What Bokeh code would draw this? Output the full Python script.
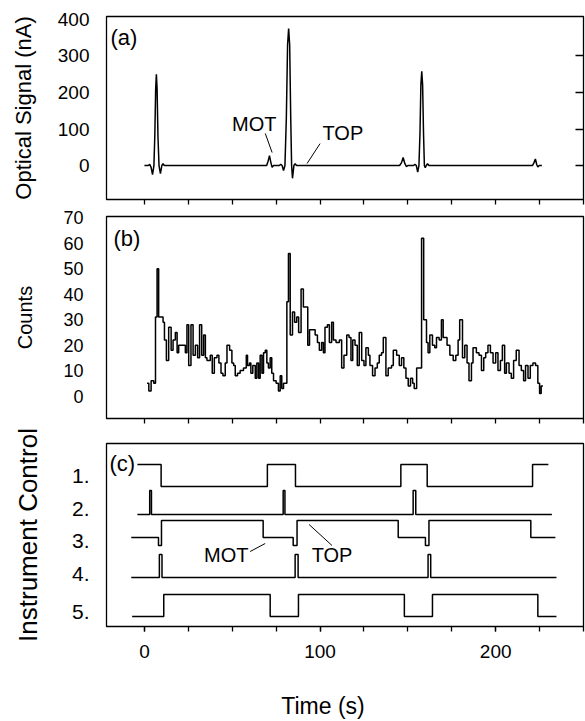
import math
from bokeh.plotting import figure
from bokeh.models import Range1d, FixedTicker, LinearAxis, Label
from bokeh.layouts import column
from bokeh.embed import file_html
from bokeh.resources import INLINE

FONT = "Liberation Sans"

# ---------------- data ----------------
x_minor_ticks = [0, 25, 50, 75, 100, 125, 150, 175, 200, 225, 250]
x_label_ticks = [0, 100, 200]

# (a) optical signal (nA) vs time (s)
sig_t = [0, 2.2, 3.0, 3.8, 4.6, 5.4, 5.9, 6.4, 6.8, 7.2, 7.7, 8.3, 9.1, 9.9, 10.6, 11.3,
         69.6, 70.4, 71.2, 72.0, 72.7, 73.5, 76.8, 77.6, 78.4, 79.2, 80.0, 80.8, 81.5, 82.1,
         82.7, 83.3, 83.8, 84.3, 85.1, 85.8, 86.6,
         145.3, 146.4, 147.3, 148.3, 149.2, 150.0, 153.2, 154.0, 154.8, 155.6, 156.3, 156.9,
         157.4, 157.9, 158.4, 158.9, 159.4, 159.9, 160.5, 161.2, 162.0,
         221.0, 221.8, 222.6, 223.4, 224.0, 224.8, 226.3]
sig_v = [0, 0, 3, -5, -25, 0, 80, 210, 250, 210, 80, 0, -22, 0, 5, 0,
         0, 12, 27, 8, -5, 0, 0, 3, 0, -14, 0, 130, 330, 375,
         330, 130, 0, -35, 0, 5, 0,
         0, 8, 22, 5, -3, 0, 0, 3, 0, -18, 0, 90,
         220, 258, 220, 90, 0, -6, 0, 5, 0,
         0, 8, 18, 2, -4, 0, 0]
a_yticks = [0, 100, 200, 300, 400]
a_right_ticks = [0, 100, 200, 300]

# (b) counts histogram: bin start times and counts
cnt_t = [1.5, 2.5, 3.8, 5.3, 6.3, 7.2, 8.1, 10.6, 11.4, 12.5, 13.8, 15.2, 16.3, 17.6, 18.6,
         19.5, 23.3, 24.2, 25.2, 26.5, 27.7, 29.0, 30.3, 31.4, 32.6, 33.7, 34.7, 35.6, 37.5,
         38.6, 39.8, 41.3, 42.4, 43.6, 44.7, 46.0, 47.0, 48.5, 49.8, 50.8, 51.7, 53.0, 54.5,
         56.4, 58.0, 58.7, 59.8, 60.6, 61.7, 63.1, 64.0, 65.0, 65.9, 66.9, 67.8, 68.8, 69.7,
         70.6, 71.6, 72.5, 73.5, 75.0, 76.3, 77.3, 78.2, 79.2, 81.1, 82.0, 83.0, 84.3, 85.5,
         86.7, 87.8, 89.2, 90.5, 93.0, 94.0, 97.2, 98.5, 99.6, 100.9, 101.9, 102.8, 104.2,
         105.3, 106.6, 107.6, 109.1, 111.0, 112.3, 113.6, 115.2, 116.5, 117.6, 118.6, 119.9,
         121.2, 122.3, 123.7, 125.0, 126.1, 127.5, 128.4, 129.9, 131.3, 132.6, 133.7, 135.0,
         136.0, 137.5, 138.8, 140.7, 141.7, 143.6, 145.1, 146.4, 147.7, 148.9, 150.2, 151.5,
         152.7, 153.6, 155.0, 157.8, 159.0, 160.6, 161.5, 162.5, 164.0, 165.3, 166.3, 167.8,
         169.1, 170.1, 172.3, 173.9, 175.8, 177.3, 178.6, 179.5, 181.1, 182.4, 183.7, 184.8,
         186.2, 187.1, 189.0, 190.5, 191.9, 193.2, 194.3, 195.6, 197.0, 198.5, 200.0, 201.3,
         202.7, 203.8, 205.1, 206.1, 207.6, 208.9, 210.2, 211.7, 213.3, 214.6, 215.9, 217.0,
         218.4, 219.7, 221.2, 222.7, 224.0, 225.0, 225.9]
cnt_v = [5, 2, 6, 5, 31, 50, 31, 29, 22, 14, 27, 18, 22, 25, 17,
         20, 17, 28, 12, 28, 16, 20, 15, 28, 16, 24, 15, 14, 16,
         9, 15, 16, 13, 9, 8, 13, 20, 18, 13, 12, 8, 9, 10,
         11, 16, 12, 13, 9, 12, 7, 13, 7, 16, 9, 17, 18, 13,
         11, 15, 9, 6, 5, 2, 8, 3, 5, 37, 56, 24, 33, 29,
         31, 25, 42, 35, 20, 26, 24, 21, 18, 21, 17, 27, 28,
         21, 29, 22, 21, 22, 11, 16, 24, 23, 14, 22, 20,
         12, 25, 14, 12, 19, 16, 12, 8, 11, 13, 16, 17,
         23, 8, 11, 12, 18, 16, 12, 15, 11, 7, 4, 7,
         5, 3, 11, 62, 30, 21, 17, 24, 20, 19, 23, 22,
         30, 23, 20, 16, 14, 16, 22, 30, 15, 20, 13, 6,
         13, 19, 17, 16, 10, 15, 17, 20, 17, 13, 17, 10,
         14, 20, 9, 13, 9, 7, 14, 18, 12, 10, 6, 12,
         7, 12, 13, 12, 5, 1, 4]
cnt_end = 226.9
b_yticks = [0, 10, 20, 30, 40, 50, 60, 70]

# (c) instrument control traces: switching times and state per segment
tr1_t = [-4, 9.5, 70, 86, 146, 161, 221, 230]
tr1_s = [1, 0, 1, 0, 1, 0, 1]
tr2_t = [-4, 3, 4, 79, 80, 153, 154.5, 232]
tr2_s = [0, 1, 0, 1, 0, 1, 0]
tr3_t = [-7.5, 8, 9.7, 67.6, 84.7, 86.9, 144.5, 160, 162, 220, 234]
tr3_s = [1, 0, 2, 1, 0, 2, 1, 0, 2, 1]
tr4_t = [-7.5, 8.5, 10, 85.8, 87.5, 161.5, 163, 234.6]
tr4_s = [0, 1, 0, 1, 0, 1, 0]
tr5_t = [-7, 11, 71.6, 87.7, 148, 164, 224, 234.6]
tr5_s = [0, 1, 0, 1, 0, 1, 0]
# levels of each trace's states on the (c) vertical scale
tr_levels = {1: [140, 162], 2: [112, 136], 3: [81, 89, 106], 4: [49, 72], 5: [10, 32]}
c_ytick_pos = [151, 118, 86, 53, 15]
c_ytick_lab = ["1.", "2.", "3.", "4.", "5."]

X_RANGE = (-21.6, 250.0)


def base_fig(h, top, bottom, yr):
    p = figure(width=585, height=h, x_range=Range1d(*X_RANGE), y_range=Range1d(*yr),
               output_backend="svg", toolbar_location=None,
               min_border_left=106, min_border_right=2, min_border_top=top,
               min_border_bottom=bottom)
    p.grid.visible = False
    p.outline_line_color = "black"
    p.outline_line_width = 1.3
    p.outline_line_alpha = 1.0
    p.background_fill_color = "white"
    p.border_fill_color = "white"
    xa = p.xaxis[0]
    xa.major_tick_out = 5
    xa.major_tick_in = 0
    xa.minor_tick_out = 5
    xa.minor_tick_in = 0
    xa.major_tick_line_width = 1.3
    xa.minor_tick_line_width = 1.3
    xa.major_tick_line_color = "black"
    xa.minor_tick_line_color = "black"
    xa.axis_line_color = None
    xa.major_label_text_font = FONT
    xa.major_label_text_color = "black"
    ya = p.yaxis[0]
    ya.major_tick_out = 0
    ya.major_tick_in = 0
    ya.minor_tick_line_color = None
    ya.axis_line_color = None
    ya.major_label_text_font = FONT
    ya.axis_label_text_font = FONT
    ya.axis_label_text_font_style = "normal"
    ya.axis_label_text_color = "black"
    ya.major_label_text_color = "black"
    return p


def lbl(p, x, y, text, size, align="left"):
    p.add_layout(Label(x=x, y=y, text=text, text_font=FONT, text_font_size=size,
                       text_align=align, text_baseline="middle", text_color="black"))


# ---------------- panel (a) ----------------
p1 = base_fig(205, 16, 6, (-93, 408))
p1.xaxis[0].ticker = FixedTicker(ticks=[], minor_ticks=x_minor_ticks)
p1.xaxis[0].major_label_standoff = 0
ya = p1.yaxis[0]
ya.ticker = FixedTicker(ticks=a_yticks)
ya.major_label_text_font_size = "19px"
ya.major_label_standoff = 17
ya.axis_label = "Optical Signal (nA)"
ya.axis_label_text_font_size = "22px"
ya.axis_label_standoff = 19
ra = LinearAxis(ticker=FixedTicker(ticks=[], minor_ticks=a_right_ticks),
                major_tick_in=0, major_tick_out=0, minor_tick_in=8, minor_tick_out=0,
                minor_tick_line_width=1.3, minor_tick_line_color="black",
                axis_line_color=None, major_label_standoff=0)
p1.add_layout(ra, "right")
p1.line(sig_t, sig_v, line_color="black", line_width=1.5)
lbl(p1, -19.3, 351, "(a)", "22px")
lbl(p1, 62.5, 115, "MOT", "20px", align="center")
lbl(p1, 113, 90, "TOP", "20px", align="center")
p1.segment(x0=[68.8, 100], y0=[87.7, 60], x1=[72.7, 92.6], y1=[35.6, 5.5],
           line_color="black", line_width=1)

# ---------------- panel (b) ----------------
p2 = base_fig(221, 11, 8, (-8.8, 70.5))
p2.xaxis[0].ticker = FixedTicker(ticks=[], minor_ticks=x_minor_ticks)
p2.xaxis[0].major_label_standoff = 0
ya = p2.yaxis[0]
ya.ticker = FixedTicker(ticks=b_yticks)
ya.major_label_text_font_size = "18px"
ya.major_label_standoff = 23
ya.axis_label = "Counts"
ya.axis_label_text_font_size = "20px"
ya.axis_label_standoff = 24
p2.step(cnt_t + [cnt_end], cnt_v + [cnt_v[-1]], mode="after", line_color="black", line_width=1.5)
lbl(p2, -17.6, 61.8, "(b)", "22px")

# ---------------- panel (c) ----------------
p3 = base_fig(240, 17, 40, (0, 183))
xa = p3.xaxis[0]
xa.ticker = FixedTicker(ticks=x_label_ticks, minor_ticks=x_minor_ticks)
xa.major_label_text_font_size = "19px"
xa.major_label_standoff = 13
ya = p3.yaxis[0]
ya.ticker = FixedTicker(ticks=c_ytick_pos)
ya.major_label_overrides = dict(zip(c_ytick_pos, c_ytick_lab))
ya.major_label_text_font_size = "21px"
ya.major_label_standoff = 17
ya.axis_label = "Instrument Control"
ya.axis_label_text_font_size = "26px"
ya.axis_label_standoff = 26

for k, (tt, ss) in enumerate([(tr1_t, tr1_s), (tr2_t, tr2_s), (tr3_t, tr3_s),
                              (tr4_t, tr4_s), (tr5_t, tr5_s)], start=1):
    ys = [tr_levels[k][s] for s in ss]
    p3.step(tt, ys + [ys[-1]], mode="after", line_color="black", line_width=1.5)

lbl(p3, -19.9, 163, "(c)", "22px")
lbl(p3, 46.6, 72, "MOT", "20px", align="center")
lbl(p3, 106.8, 72, "TOP", "20px", align="center")
p3.segment(x0=[60.2, 93.75], y0=[75, 102], x1=[68.75, 106.8], y1=[83, 81],
           line_color="black", line_width=1)

# ---------------- x-axis title strip (same time scale as the panels) ----------------
p4 = figure(width=585, height=53, x_range=Range1d(*X_RANGE), y_range=Range1d(0, 53),
            output_backend="svg", toolbar_location=None,
            min_border_left=106, min_border_right=2, min_border_top=0, min_border_bottom=0)
p4.axis.visible = False
p4.grid.visible = False
p4.outline_line_color = None
p4.background_fill_color = "white"
p4.border_fill_color = "white"
lbl(p4, 101.7, 14, "Time (s)", "23px", align="center")

layout = column(p1, p2, p3, p4)
open("out.html", "w").write(file_html(layout, INLINE))
